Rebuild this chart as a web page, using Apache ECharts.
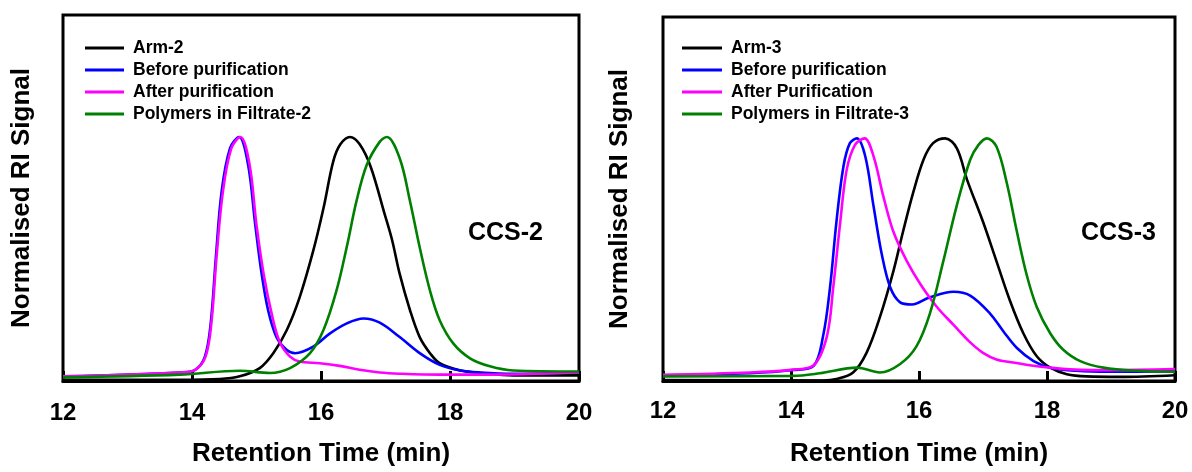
<!DOCTYPE html>
<html>
<head>
<meta charset="utf-8">
<script src="https://cdn.jsdelivr.net/npm/echarts@6/dist/echarts.min.js"></script>
<style>
  html, body { margin: 0; padding: 0; background: #fff; }
  #chart { width: 1192px; height: 472px; }
</style>
</head>
<body>
<div id="chart"></div>
<script>
// x ticks (retention time, min)
const xTicks = [12, 14, 16, 18, 20];

// CCS-2 panel: [time, normalised signal]
const arm2 = [[12,0.005],[13.8,0.005],[14.43,0.008],[14.74,0.019],[15.05,0.053],[15.26,0.114],[15.47,0.209],[15.67,0.344],[15.88,0.534],[16.04,0.71],[16.19,0.9],[16.3,0.97],[16.45,1.0],[16.6,0.97],[16.77,0.878],[16.98,0.69],[17.1,0.58],[17.22,0.439],[17.38,0.29],[17.53,0.18],[17.69,0.114],[17.84,0.073],[18.16,0.043],[18.47,0.033],[18.98,0.023],[20,0.023]];
const before2 = [[12,0.019],[13.81,0.035],[14.05,0.046],[14.2,0.1],[14.29,0.236],[14.37,0.507],[14.46,0.778],[14.59,0.954],[14.73,1.0],[14.87,0.886],[14.98,0.642],[15.08,0.439],[15.18,0.29],[15.31,0.18],[15.47,0.127],[15.6,0.114],[15.88,0.141],[16.14,0.195],[16.4,0.236],[16.66,0.256],[16.91,0.239],[17.22,0.18],[17.53,0.114],[17.84,0.066],[18.16,0.043],[18.47,0.035],[18.98,0.03],[20,0.035]];
const after2 = [[12,0.019],[13.81,0.035],[14.05,0.046],[14.21,0.1],[14.3,0.236],[14.38,0.507],[14.48,0.778],[14.61,0.954],[14.75,1.0],[14.89,0.89],[15.0,0.64],[15.11,0.44],[15.24,0.27],[15.36,0.16],[15.52,0.1],[15.67,0.08],[15.98,0.073],[16.29,0.062],[16.6,0.046],[16.91,0.035],[17.22,0.03],[17.84,0.026],[18.47,0.026],[20,0.035]];
const filtrate2 = [[12,0.015],[13.81,0.026],[14.74,0.042],[15.21,0.033],[15.52,0.053],[15.83,0.114],[16.04,0.21],[16.24,0.37],[16.4,0.55],[16.55,0.737],[16.71,0.886],[16.91,0.98],[17.02,1.0],[17.22,0.913],[17.38,0.737],[17.53,0.548],[17.69,0.37],[17.84,0.249],[18.05,0.154],[18.31,0.093],[18.62,0.06],[18.98,0.043],[20,0.039]];

// CCS-3 panel
const arm3 = [[12,0.004],[14.5,0.002],[14.71,0.008],[14.97,0.035],[15.18,0.116],[15.39,0.264],[15.6,0.453],[15.75,0.615],[15.91,0.777],[16.07,0.912],[16.22,0.98],[16.41,1.0],[16.59,0.96],[16.75,0.83],[17.0,0.656],[17.21,0.494],[17.42,0.332],[17.63,0.197],[17.84,0.102],[18.05,0.055],[18.31,0.028],[18.62,0.019],[19.14,0.017],[20,0.024]];
const before3 = [[12,0.024],[13.36,0.032],[14.03,0.045],[14.35,0.062],[14.5,0.183],[14.61,0.386],[14.71,0.656],[14.82,0.885],[14.92,0.98],[15.03,1.0],[15.16,0.926],[15.29,0.72],[15.42,0.52],[15.55,0.386],[15.7,0.325],[15.89,0.315],[16.17,0.345],[16.54,0.368],[16.8,0.352],[17.11,0.278],[17.32,0.204],[17.53,0.136],[17.79,0.082],[18.05,0.055],[18.46,0.042],[18.98,0.038],[20,0.04]];
const after3 = [[12,0.026],[13.36,0.035],[14.03,0.047],[14.35,0.064],[14.56,0.183],[14.66,0.386],[14.77,0.656],[14.87,0.87],[15.0,0.973],[15.15,1.0],[15.29,0.926],[15.44,0.764],[15.6,0.615],[15.81,0.494],[16.02,0.4],[16.28,0.305],[16.54,0.231],[16.8,0.159],[17.0,0.116],[17.21,0.089],[17.47,0.076],[17.73,0.065],[18.05,0.055],[18.52,0.046],[18.98,0.045],[20,0.049]];
const filtrate3 = [[12,0.019],[14.03,0.021],[14.45,0.032],[15.03,0.055],[15.39,0.035],[15.7,0.069],[15.96,0.143],[16.17,0.278],[16.38,0.494],[16.59,0.723],[16.8,0.912],[16.93,0.973],[17.06,1.0],[17.21,0.966],[17.37,0.818],[17.53,0.615],[17.68,0.44],[17.84,0.305],[18.05,0.197],[18.25,0.13],[18.52,0.082],[18.88,0.055],[19.4,0.042],[20,0.038]];

const names2 = ['Arm-2', 'Before purification', 'After purification', 'Polymers in Filtrate-2'];
const names3 = ['Arm-3', 'Before purification', 'After Purification', 'Polymers in Filtrate-3'];
const colors = ['#000000', '#0000ff', '#ff00ff', '#008000'];

const FONT = 'Arial, "Liberation Sans", sans-serif';

const chart = echarts.init(document.getElementById('chart'), null, { renderer: 'canvas' });

const xAxisOf = (gridIndex, gap, margin) => ({
  type: 'value', gridIndex, min: xTicks[0], max: xTicks[xTicks.length - 1], interval: 2,
  name: 'Retention Time (min)', nameLocation: 'middle', nameGap: gap,
  nameTextStyle: { fontFamily: FONT, fontWeight: 'bold', fontSize: 26, color: '#000' },
  axisLine: { show: true, lineStyle: { color: '#000', width: 3 } },
  axisTick: { show: true, inside: true, length: 10, lineStyle: { color: '#000', width: 3 } },
  axisLabel: { margin, fontFamily: FONT, fontWeight: 'bold', fontSize: 24, color: '#000' },
  splitLine: { show: false }
});

const yAxisOf = (gridIndex, gap) => ({
  type: 'value', gridIndex, min: 0, max: 1.5,
  name: 'Normalised RI Signal', nameLocation: 'middle', nameGap: gap, nameRotate: 90,
  nameTextStyle: { fontFamily: FONT, fontWeight: 'bold', fontSize: 26, color: '#000' },
  axisLine: { show: false }, axisTick: { show: false }, axisLabel: { show: false },
  splitLine: { show: false }
});

const lineOf = (name, data, idx, color) => ({
  name, type: 'line', data, xAxisIndex: idx, yAxisIndex: idx,
  symbol: 'none', showSymbol: false, smooth: 0.35,
  lineStyle: { color, width: 2.6 }, itemStyle: { color },
  z: 3
});

const legendOf = (names, left, top, w) => ({
  data: names, orient: 'vertical', left, top,
  icon: 'rect', itemWidth: w, itemHeight: 3, itemGap: 0,
  textStyle: { fontFamily: FONT, fontWeight: 'bold', fontSize: 17.5, color: '#000', lineHeight: 22, padding: [0, 0, 0, 4] },
  selectedMode: false
});

chart.setOption({
  animation: false,
  backgroundColor: '#fff',
  grid: [
    { left: 63, top: 15, width: 516, height: 368, show: true, borderColor: '#000', borderWidth: 3, backgroundColor: 'transparent' },
    { left: 663, top: 17, width: 512, height: 370, show: true, borderColor: '#000', borderWidth: 3, backgroundColor: 'transparent' }
  ],
  xAxis: [xAxisOf(0, 60, 20), xAxisOf(1, 60, 18)],
  yAxis: [yAxisOf(0, 28), yAxisOf(1, 30)],
  legend: [legendOf(names2, 80, 32, 39), legendOf(names3, 677, 32, 40)],
  graphic: [
    { type: 'text', left: 468, top: 221, style: { text: 'CCS-2', fontFamily: FONT, fontWeight: 'bold', fontSize: 25, fill: '#000' } },
    { type: 'text', left: 1081, top: 221, style: { text: 'CCS-3', fontFamily: FONT, fontWeight: 'bold', fontSize: 25, fill: '#000' } }
  ],
  series: [
    lineOf(names2[0], arm2, 0, colors[0]),
    lineOf(names2[1], before2, 0, colors[1]),
    lineOf(names2[2], after2, 0, colors[2]),
    lineOf(names2[3], filtrate2, 0, colors[3]),
    lineOf(names3[0], arm3, 1, colors[0]),
    lineOf(names3[1], before3, 1, colors[1]),
    lineOf(names3[2], after3, 1, colors[2]),
    lineOf(names3[3], filtrate3, 1, colors[3])
  ]
});
</script>
</body>
</html>
